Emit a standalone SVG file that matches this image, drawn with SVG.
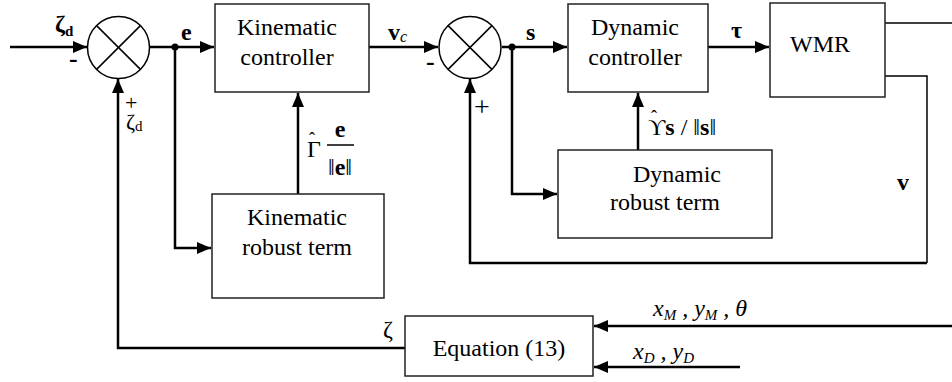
<svg xmlns="http://www.w3.org/2000/svg" width="952" height="382" viewBox="0 0 952 382">
<style>
.box{fill:#fff;stroke:#222;stroke-width:1.5}
.ln{fill:none;stroke:#000;stroke-width:2.5}
.thin{fill:none;stroke:#000;stroke-width:1.5}
.t{font-family:'Liberation Serif','Times New Roman',serif;font-size:24px;fill:#000}
.b{font-weight:bold}
.i{font-style:italic}
</style>
<defs>
<marker id="ar" viewBox="0 0 14 12" refX="14" refY="6" markerWidth="14" markerHeight="12" markerUnits="userSpaceOnUse" orient="auto">
<path d="M0,0 L14,6 L0,12 z" fill="#000"/>
</marker>
</defs>
<g id="connectors">
<line class="ln" x1="10" y1="47" x2="87" y2="47" marker-end="url(#ar)"/>
<line class="ln" x1="150" y1="47" x2="214" y2="47" marker-end="url(#ar)"/>
<polyline class="ln" points="175,47 175,248 211,248" marker-end="url(#ar)"/>
<line class="ln" x1="298" y1="194" x2="298" y2="93" marker-end="url(#ar)"/>
<line class="ln" x1="369" y1="47" x2="438" y2="47" marker-end="url(#ar)"/>
<line class="ln" x1="502" y1="47" x2="567" y2="47" marker-end="url(#ar)"/>
<polyline class="ln" points="512,47 512,194 557,194" marker-end="url(#ar)"/>
<line class="ln" x1="638" y1="150" x2="638" y2="93" marker-end="url(#ar)"/>
<line class="ln" x1="708" y1="47" x2="769" y2="47" marker-end="url(#ar)"/>
<line class="thin" x1="885" y1="23" x2="952" y2="23"/>
<polyline class="thin" points="885,76 927,76 927,263"/>
<polyline class="ln" points="927,263 470,263 470,79" marker-end="url(#ar)"/>
<polyline class="ln" points="405,348 118,348 118,79" marker-end="url(#ar)"/>
<line class="ln" x1="952" y1="326" x2="594" y2="326" marker-end="url(#ar)"/>
<line class="ln" x1="740" y1="367" x2="594" y2="367" marker-end="url(#ar)"/>
<circle cx="175" cy="47" r="3.5" fill="#000"/>
<circle cx="512" cy="47" r="3.5" fill="#000"/>
</g>
<g id="sum1">
<circle class="thin" cx="118.5" cy="47.5" r="31" fill="#fff"/>
<line class="thin" x1="96.6" y1="25.6" x2="140.4" y2="69.4"/>
<line class="thin" x1="140.4" y1="25.6" x2="96.6" y2="69.4"/>
</g>
<g id="sum2">
<circle class="thin" cx="470" cy="47.5" r="31" fill="#fff"/>
<line class="thin" x1="448.1" y1="25.6" x2="491.9" y2="69.4"/>
<line class="thin" x1="491.9" y1="25.6" x2="448.1" y2="69.4"/>
</g>
<g id="kin-ctrl">
<rect class="box" x="215" y="4" width="154" height="88"/>
<text class="t" x="287" y="35" text-anchor="middle">Kinematic</text>
<text class="t" x="287" y="65" text-anchor="middle">controller</text>
</g>
<g id="kin-robust">
<rect class="box" x="212" y="194" width="172" height="104"/>
<text class="t" x="297" y="225" text-anchor="middle">Kinematic</text>
<text class="t" x="297" y="255" text-anchor="middle">robust term</text>
</g>
<g id="dyn-ctrl">
<rect class="box" x="568" y="4" width="140" height="88"/>
<text class="t" x="635" y="35" text-anchor="middle">Dynamic</text>
<text class="t" x="635" y="65" text-anchor="middle">controller</text>
</g>
<g id="dyn-robust">
<rect class="box" x="558" y="150" width="214" height="88"/>
<text class="t" x="677" y="182" text-anchor="middle">Dynamic</text>
<text class="t" x="665" y="210" text-anchor="middle">robust term</text>
</g>
<g id="wmr">
<rect class="box" x="770" y="3" width="115" height="94"/>
<text class="t" x="820" y="52" text-anchor="middle">WMR</text>
</g>
<g id="equation">
<rect class="box" x="405" y="316" width="188" height="60"/>
<text class="t" x="499" y="356" text-anchor="middle">Equation (13)</text>
</g>
<g id="labels">
<text class="t b" x="55" y="32">ζ<tspan style="font-size:15px" dy="4">d</tspan></text>
<text class="t b" x="69" y="67" style="font-size:26px">-</text>
<text class="t" x="125" y="110" style="font-size:22px">+</text>
<text class="t" x="126" y="129" style="font-size:22px">ζ<tspan style="font-size:15px" dy="2">d</tspan></text>
<text class="t b" x="181" y="40">e</text>
<text class="t b" x="388" y="40">v<tspan class="i" style="font-weight:normal;font-size:16px" dy="2">c</tspan></text>
<text class="t b" x="426" y="70" style="font-size:26px">-</text>
<text class="t" x="474" y="116" style="font-size:28px">+</text>
<text class="t b" x="526" y="40">s</text>
<text class="t b" x="731" y="38">τ</text>
<text class="t b" x="897" y="190">v</text>
<text class="t" x="383" y="337">ζ</text>
<text class="t" x="307" y="157">Γ</text>
<text class="t" x="309" y="145" style="font-size:18px">ˆ</text>
<text class="t b" x="340" y="137" text-anchor="middle">e</text>
<line class="thin" x1="327" y1="145" x2="354" y2="145"/>
<text class="t" x="340" y="175" text-anchor="middle">‖<tspan class="b">e</tspan>‖</text>
<text class="t" x="648" y="135">ϒ<tspan class="b">s</tspan> / ‖<tspan class="b">s</tspan>‖</text>
<text class="t" x="651" y="123" style="font-size:18px">ˆ</text>
<text class="t i" x="653" y="316">x<tspan style="font-size:15px" dy="4">M</tspan><tspan dy="-4"> , y</tspan><tspan style="font-size:15px" dy="4">M</tspan><tspan dy="-4"> , θ</tspan></text>
<text class="t i" x="633" y="359">x<tspan style="font-size:15px" dy="4">D</tspan><tspan dy="-4"> , y</tspan><tspan style="font-size:15px" dy="4">D</tspan></text>
</g>
</svg>
